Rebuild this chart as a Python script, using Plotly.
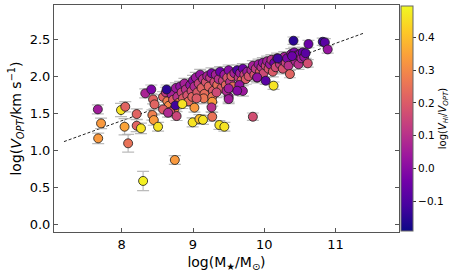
import plotly.graph_objects as go

# ---- data ----
# outliers / distinct points
logM_a = [7.665, 7.71, 7.67, 7.99, 8.05, 8.04, 8.09, 8.21, 8.21, 8.27, 8.30, 8.33, 8.415, 8.44, 8.46,
          8.43, 8.45, 8.51, 8.58, 8.63, 8.65, 8.745, 8.755, 8.77, 8.85, 8.995, 9.02, 9.09, 9.14,
          9.27, 9.27, 9.26, 9.37, 9.44, 9.84, 10.13, 10.02, 10.41, 10.62, 10.82, 10.85, 10.89,
          10.61, 10.36, 10.19, 10.39, 9.90, 9.62, 9.50, 9.50]
logV_a = [1.551, 1.362, 1.16, 1.542, 1.587, 1.317, 1.093, 1.488, 1.331, 1.295, 0.585, 1.767, 1.82, 1.686, 1.619,
          1.475, 1.407, 1.317, 1.551, 1.82, 1.506, 0.868, 1.605, 1.461, 1.623, 1.376, 1.574, 1.421, 1.41,
          1.452, 1.654, 1.578, 1.34, 1.317, 1.452, 1.871, 1.938, 2.478, 2.433, 2.464, 2.455, 2.36,
          2.172, 2.028, 2.239, 2.27, 1.983, 1.803, 1.834, 1.69]
err_a = [0.06, 0.07, 0.07, 0.09, 0.07, 0.11, 0.12, 0.07, 0.08, 0.07, 0.13, 0.06, 0.06, 0.06, 0.06,
         0.07, 0.07, 0.06, 0.06, 0.06, 0.06, 0.06, 0.06, 0.06, 0.06, 0.06, 0.06, 0.06, 0.06,
         0.06, 0.06, 0.06, 0.06, 0.06, 0.05, 0.05, 0.05, 0.05, 0.05, 0.05, 0.05, 0.05,
         0.05, 0.05, 0.05, 0.05, 0.05, 0.06, 0.06, 0.06]
ratio_a = [0.05, 0.33, 0.33, 0.46, 0.22, 0.35, 0.25, 0.22, 0.22, 0.46, 0.48, 0.07, -0.02, 0.22, 0.22,
           0.28, 0.33, 0.46, 0.20, -0.15, 0.08, 0.33, -0.12, 0.15, 0.46, 0.46, 0.33, 0.40, 0.46,
           0.25, 0.33, 0.10, 0.46, 0.46, 0.17, 0.46, -0.08, -0.15, -0.05, -0.13, -0.08, 0.03,
           0.17, 0.22, -0.12, -0.05, 0.02, 0.00, 0.05, 0.05]

# main band of galaxies
logM_b = [8.58, 8.62, 8.64, 8.66, 8.70, 8.72, 8.74, 8.76, 8.78, 8.80, 8.68,
          8.82, 8.84, 8.86, 8.88, 8.90, 8.92, 8.94, 8.96, 8.98, 9.00, 8.99,
          9.02, 9.04, 9.06, 9.08, 9.10, 9.12, 9.14, 9.16, 9.18, 9.20, 9.15, 9.05,
          9.22, 9.24, 9.26, 9.28, 9.30, 9.32, 9.34, 9.36, 9.38, 9.40, 9.27, 9.33,
          9.42, 9.44, 9.46, 9.48, 9.50, 9.52, 9.54, 9.56, 9.58, 9.50, 9.47,
          9.62, 9.64, 9.66, 9.68, 9.70, 9.72, 9.74, 9.76, 9.78, 9.65, 9.70,
          9.82, 9.84, 9.86, 9.88, 9.90, 9.92, 9.94, 9.96, 9.98, 9.99,
          10.02, 10.04, 10.06, 10.08, 10.10, 10.12, 10.14, 10.16, 10.18,
          10.22, 10.24, 10.26, 10.28, 10.30, 10.32, 10.34, 10.38,
          10.42, 10.44, 10.46, 10.48, 10.50, 10.52, 10.54, 10.56, 10.58]
logV_b = [1.72, 1.78, 1.66, 1.60, 1.75, 1.68, 1.56, 1.84, 1.72, 1.64, 1.52,
          1.86, 1.78, 1.70, 1.90, 1.82, 1.74, 1.66, 1.88, 1.80, 1.94, 1.72,
          1.86, 1.98, 1.78, 1.90, 2.02, 1.84, 1.96, 1.76, 1.92, 2.00, 1.70, 1.70,
          1.86, 1.98, 2.04, 1.80, 1.92, 2.02, 1.88, 1.96, 2.06, 1.84, 1.72, 1.78,
          1.94, 2.02, 1.88, 1.98, 2.08, 1.92, 2.00, 1.86, 2.04, 1.72, 1.80,
          2.08, 1.98, 2.04, 1.94, 2.10, 2.02, 1.96, 2.06, 2.00, 1.88, 1.80,
          2.08, 2.14, 2.02, 2.10, 1.98, 2.16, 2.06, 2.12, 2.18, 2.04,
          2.14, 2.20, 2.10, 2.16, 2.22, 2.06, 2.18, 2.12, 2.24,
          2.16, 2.22, 2.10, 2.26, 2.18, 2.24, 2.14, 2.30,
          2.32, 2.20, 2.28, 2.16, 2.30, 2.24, 2.32, 2.26, 2.31]
ratio_b = [0.22, 0.12, 0.28, 0.30, 0.06, 0.20, 0.30, 0.04, 0.10, 0.24, 0.18,
           0.02, 0.14, 0.20, 0.06, 0.10, 0.18, 0.24, 0.03, 0.16, 0.00, 0.22,
           0.08, 0.04, 0.20, 0.14, 0.02, 0.22, 0.10, 0.24, 0.18, 0.06, 0.26, 0.20,
           0.22, 0.12, -0.02, 0.20, 0.16, 0.06, 0.24, 0.10, -0.05, 0.20, 0.26, 0.16,
           0.14, 0.04, 0.22, 0.18, 0.00, 0.10, 0.20, 0.24, 0.06, 0.04, 0.08,
           -0.10, 0.12, 0.04, 0.22, -0.05, 0.14, 0.20, 0.04, 0.18, 0.02, 0.04,
           0.08, 0.06, 0.18, 0.12, 0.02, 0.04, 0.20, 0.10, 0.02, 0.16,
           0.14, 0.06, 0.18, 0.04, 0.10, 0.20, -0.04, 0.16, 0.06,
           0.12, 0.04, 0.18, 0.06, 0.14, -0.02, 0.10, 0.02,
           -0.02, 0.08, 0.04, 0.10, 0.00, 0.06, -0.05, 0.02, -0.08]
err_b = [0.07] * len(logM_b)

# fitted relation (dashed line end points)
line_x = [7.19, 11.41]
line_y = [1.116, 2.585]

logM = logM_b + logM_a
logV = logV_b + logV_a
logV_err = err_b + err_a
ratio = ratio_b + ratio_a

FONT = "DejaVu Sans"

fig = go.Figure()

fig.add_trace(go.Scatter(
    x=line_x, y=line_y, mode="lines",
    line=dict(color="#222222", width=1, dash="3px,2px"),
    showlegend=False, hoverinfo="skip"))

fig.add_trace(go.Scatter(
    x=logM, y=logV, mode="markers",
    error_y=dict(type="data", array=logV_err, visible=True,
                 color="rgba(175,175,175,0.85)", thickness=1.2, width=6),
    marker=dict(size=9, color=ratio, colorscale="Plasma", cmin=-0.19, cmax=0.495,
                line=dict(color="#1a1a1a", width=0.8),
                colorbar=dict(thickness=12, len=0.99, lenmode="fraction",
                              x=1.006, xanchor="left", y=0.5, yanchor="middle",
                              xpad=0, ypad=0,
                              outlinecolor="#666666", outlinewidth=1,
                              ticks="outside", ticklen=3, tickcolor="#333",
                              tickvals=[-0.1, 0.0, 0.1, 0.2, 0.3, 0.4], tickformat=".1f",
                              tickfont=dict(family=FONT, size=10.5, color="black"),
                              title=dict(text="log(<i>V</i><sub><i>HI</i></sub>/<i>V</i><sub><i>OPT</i></sub>)",
                                         side="right",
                                         font=dict(family=FONT, size=10, color="black")))),
    showlegend=False))

axis_common = dict(showline=True, linecolor="#555555", linewidth=1, mirror="ticks",
                   ticks="inside", ticklen=4, tickcolor="#555555", showgrid=False,
                   zeroline=False, tickfont=dict(family=FONT, size=13, color="black"))

fig.update_xaxes(range=[7.05, 11.89], tickvals=[8, 9, 10, 11],
                 title=dict(text="log(M<sub>★</sub>/M<sub>⊙</sub>)", standoff=6,
                            font=dict(family=FONT, size=14, color="black")),
                 **axis_common)
fig.update_yaxes(range=[-0.104, 2.96], tickvals=[0, 0.5, 1.0, 1.5, 2.0, 2.5], tickformat=".1f",
                 title=dict(text="log(<i>V</i><sub><i>OPT</i></sub>/km s<sup>−1</sup>)", standoff=4,
                            font=dict(family=FONT, size=14, color="black")),
                 **axis_common)

fig.update_layout(width=463, height=275, margin=dict(l=54, r=64, t=5, b=43, autoexpand=False),
                  paper_bgcolor="white", plot_bgcolor="white",
                  font=dict(family=FONT, color="black"))

fig.write_html("out.html", config={"displayModeBar": False},
               post_script="document.body.style.margin='0px';")
